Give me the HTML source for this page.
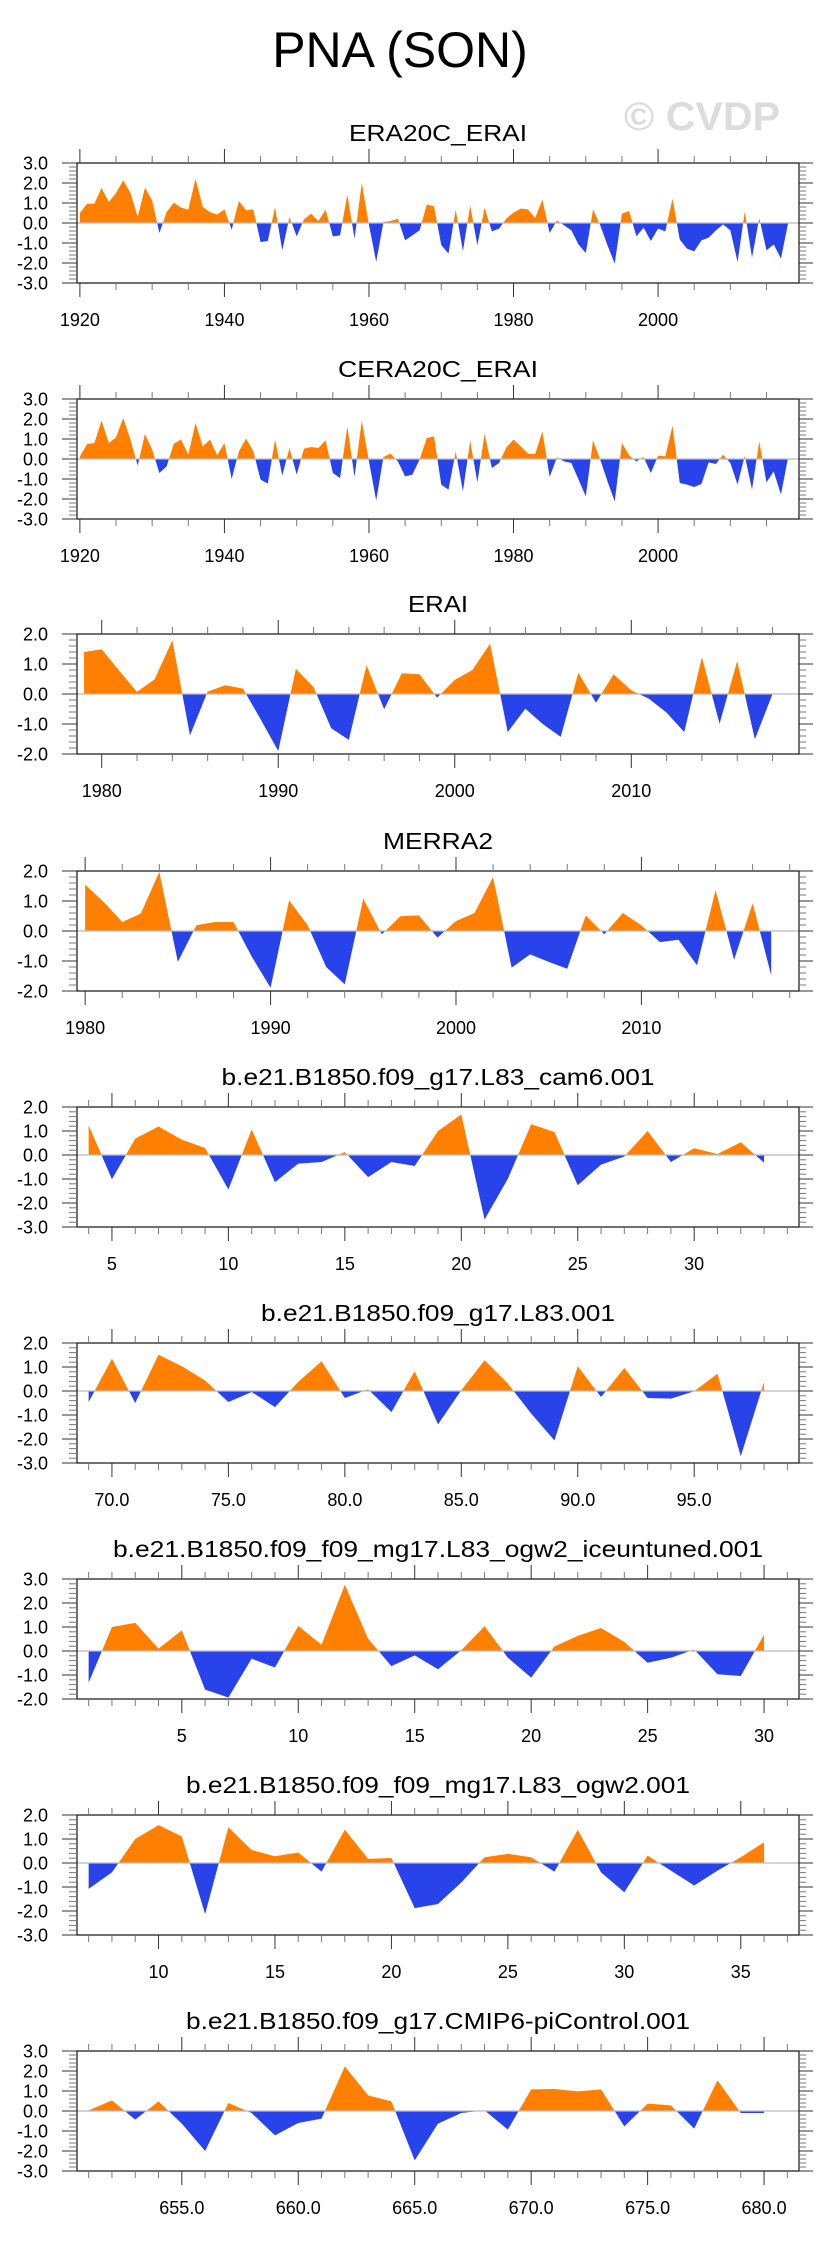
<!DOCTYPE html>
<html><head><meta charset="utf-8"><title>PNA (SON)</title>
<style>
html,body{margin:0;padding:0;background:#fff;}
svg{display:block;font-family:"Liberation Sans",Arial,sans-serif;}
</style></head>
<body>
<svg id="chart" width="829" height="2245" viewBox="0 0 829 2245" xmlns="http://www.w3.org/2000/svg">
<rect x="0" y="0" width="829" height="2245" fill="#fff"/>
<text x="400" y="67" font-size="50" text-anchor="middle" fill="#000">PNA (SON)</text>
<text x="624" y="130" font-size="40" font-weight="bold" fill="#dcdcdc" textLength="156" lengthAdjust="spacingAndGlyphs">© CVDP</text>
<g id="panels"></g>
</svg>
<script>
// ---- data ----
const era20cStart = 1920;
const era20cValues = [0.5,0.97,0.97,1.75,1.05,1.5,2.13,1.5,0.3,1.77,1.13,-0.5,0.55,1.02,0.77,0.67,2.22,0.8,0.55,0.42,0.68,-0.33,1.1,0.63,0.68,-0.95,-0.9,0.8,-1.37,0.3,-0.67,0.18,0.47,0.1,0.67,-0.67,-0.62,1.42,-0.78,2.0,-0.1,-1.95,0.05,0.1,0.22,-0.87,-0.62,-0.37,0.93,0.83,-1.1,-1.53,0.67,-1.4,0.88,-1.12,0.77,-0.42,-0.28,0.22,0.52,0.72,0.68,0.25,1.17,-0.5,0.13,-0.12,-0.37,-1.08,-1.5,0.68,-0.12,-1.12,-2.03,0.47,0.6,-0.67,-0.23,-0.9,-0.28,-0.42,1.22,-0.83,-1.28,-1.42,-0.87,-0.73,-0.37,-0.07,-0.37,-1.95,0.58,-1.73,0.25,-1.37,-1.07,-1.78,0.0];
const cera20cStart = 1920;
const cera20cValues = [0.13,0.75,0.8,1.92,0.8,1.08,2.05,0.97,-0.33,1.25,0.47,-0.7,-0.37,0.77,0.97,0.22,1.8,0.63,0.97,0.18,0.8,-1.0,0.38,1.02,0.38,-1.03,-1.23,0.97,-0.83,0.55,-0.78,0.52,0.6,0.55,0.93,-0.7,-0.95,1.63,-0.9,1.92,-0.12,-2.08,0.1,0.27,-0.12,-0.87,-0.78,-0.03,1.05,1.13,-1.28,-1.53,0.38,-1.62,0.92,-1.17,1.27,-0.45,-0.2,0.58,0.97,0.63,0.27,0.25,1.38,-0.9,0.08,-0.12,-0.2,-1.03,-1.87,0.93,-0.03,-1.12,-2.12,0.8,0.18,-0.12,0.1,-0.7,0.17,0.13,1.67,-1.2,-1.28,-1.4,-1.25,-0.17,-0.25,0.22,-0.2,-1.28,0.17,-1.53,0.88,-1.17,-0.62,-1.78,0.1];
const eraiStart = 1979;
const eraiValues = [1.4,1.49,0.77,0.07,0.49,1.79,-1.38,0.08,0.29,0.18,-0.84,-1.9,0.84,0.23,-1.14,-1.53,0.96,-0.51,0.69,0.66,-0.12,0.47,0.8,1.68,-1.27,-0.49,-1.01,-1.43,0.71,-0.29,0.66,0.12,-0.16,-0.62,-1.27,1.23,-0.99,1.1,-1.51,0.0];
const merra2Start = 1980;
const merra2Values = [1.54,0.97,0.3,0.58,1.97,-1.03,0.19,0.3,0.3,-0.87,-1.89,1.02,0.19,-1.2,-1.78,1.08,-0.11,0.49,0.52,-0.22,0.33,0.6,1.8,-1.22,-0.78,-1.03,-1.26,0.52,-0.11,0.6,0.19,-0.37,-0.29,-1.14,1.36,-0.96,0.93,-1.48];
const cam6Start = 4;
const cam6Values = [1.24,-1.01,0.68,1.19,0.64,0.29,-1.44,1.07,-1.13,-0.36,-0.29,0.12,-0.92,-0.29,-0.46,1.0,1.69,-2.69,-0.99,1.28,0.96,-1.26,-0.4,-0.06,1.0,-0.29,0.28,0.04,0.53,-0.32];
const l83Start = 69;
const l83Values = [-0.46,1.35,-0.5,1.51,1.03,0.44,-0.46,-0.04,-0.67,0.38,1.24,-0.29,0.07,-0.88,0.83,-1.39,0.03,1.28,0.31,-0.94,-2.06,1.03,-0.25,0.96,-0.29,-0.32,-0.01,0.72,-2.72,0.38];
const iceStart = 1;
const iceValues = [-1.32,1.0,1.17,0.1,0.86,-1.61,-1.94,-0.32,-0.69,1.04,0.26,2.76,0.51,-0.63,-0.18,-0.76,0.03,1.03,-0.28,-1.11,0.19,0.63,0.96,0.38,-0.49,-0.28,0.06,-0.97,-1.04,0.68];
const ogw2Start = 7;
const ogw2Values = [-1.08,-0.39,1.0,1.58,1.11,-2.13,1.49,0.54,0.28,0.44,-0.36,1.39,0.17,0.21,-1.88,-1.71,-0.81,0.24,0.38,0.24,-0.36,1.38,-0.39,-1.22,0.31,-0.32,-0.94,-0.32,0.24,0.86];
const piStart = 651;
const piValues = [0.03,0.53,-0.43,0.48,-0.63,-2.0,0.4,-0.1,-1.22,-0.6,-0.38,2.23,0.78,0.48,-2.47,-0.63,-0.1,0.03,-0.93,1.08,1.1,0.98,1.08,-0.77,0.37,0.28,-0.88,1.53,-0.1,-0.1];
const panelTitles = ["ERA20C_ERAI","CERA20C_ERAI","ERAI","MERRA2","b.e21.B1850.f09_g17.L83_cam6.001","b.e21.B1850.f09_g17.L83.001","b.e21.B1850.f09_f09_mg17.L83_ogw2_iceuntuned.001","b.e21.B1850.f09_f09_mg17.L83_ogw2.001","b.e21.B1850.f09_g17.CMIP6-piControl.001"];
const yTickLabels6 = ["3.0","2.0","1.0","0.0","-1.0","-2.0","-3.0"];

// ---- layout (not data) ----
const L = 77, R = 799, H = 120;
const layout = [
 {top:163, ymin:-3, ymax:3, xmin:1919.6, xmax:2019.5, major:20, minor:5, dec:0, start:era20cStart, vals:era20cValues, tw:178, name:"era20c-erai"},
 {top:399, ymin:-3, ymax:3, xmin:1919.6, xmax:2019.5, major:20, minor:5, dec:0, start:cera20cStart, vals:cera20cValues, tw:200, name:"cera20c-erai"},
 {top:634, ymin:-2, ymax:2, xmin:1978.6, xmax:2019.5, major:10, minor:2, dec:0, start:eraiStart, vals:eraiValues, tw:60, name:"erai"},
 {top:871, ymin:-2, ymax:2, xmin:1979.56, xmax:2018.5, major:10, minor:2, dec:0, start:merra2Start, vals:merra2Values, tw:110, name:"merra2"},
 {top:1107, ymin:-3, ymax:2, xmin:3.5, xmax:34.5, major:5, minor:1, dec:0, start:cam6Start, vals:cam6Values, tw:433, name:"cam6"},
 {top:1343, ymin:-3, ymax:2, xmin:68.5, xmax:99.5, major:5, minor:1, dec:1, start:l83Start, vals:l83Values, tw:354, name:"l83"},
 {top:1579, ymin:-2, ymax:3, xmin:0.5, xmax:31.5, major:5, minor:1, dec:0, start:iceStart, vals:iceValues, tw:650, name:"ogw2-iceuntuned"},
 {top:1815, ymin:-3, ymax:2, xmin:6.5, xmax:37.5, major:5, minor:1, dec:0, start:ogw2Start, vals:ogw2Values, tw:504, name:"ogw2"},
 {top:2051, ymin:-3, ymax:3, xmin:650.5, xmax:681.5, major:5, minor:1, dec:1, start:piStart, vals:piValues, tw:504, name:"picontrol"}
];
const NS = "http://www.w3.org/2000/svg";
const root = document.getElementById("panels");
function mk(tag, attrs, parent){
  const e = document.createElementNS(NS, tag);
  for (const k in attrs) e.setAttribute(k, attrs[k]);
  parent.appendChild(e); return e;
}
layout.forEach((p, i) => {
  const g = mk("g", {}, root);
  
  
  const xs = v => L + (v - p.xmin) / (p.xmax - p.xmin) * (R - L);
  const ys = v => p.top + (p.ymax - v) / (p.ymax - p.ymin) * H;
  const bot = p.top + H;
  // title
  const t = mk("text", {x:(L+R)/2, y:p.top-22, "font-size":23, "text-anchor":"middle", textLength:p.tw, lengthAdjust:"spacingAndGlyphs"}, g);
  t.textContent = panelTitles[i];
  
  
  // clips
  const cid = "c" + i;
  const defs = mk("defs", {}, g);
  const cpA = mk("clipPath", {id:cid+"a"}, defs);
  mk("rect", {x:L, y:p.top, width:R-L, height:ys(0)-p.top}, cpA);
  const cpB = mk("clipPath", {id:cid+"b"}, defs);
  mk("rect", {x:L, y:ys(0), width:R-L, height:bot-ys(0)}, cpB);
  // area
  let d = "M" + xs(p.start) + "," + ys(0);
  p.vals.forEach((v, k) => { d += " L" + xs(p.start + k).toFixed(2) + "," + ys(v).toFixed(2); });
  d += " L" + xs(p.start + p.vals.length - 1) + "," + ys(0) + " Z";
  const a1 = mk("path", {d:d, fill:"#ff8000", "clip-path":"url(#"+cid+"a)"}, g);
  
  
  const a2 = mk("path", {d:d, fill:"#2843ea", "clip-path":"url(#"+cid+"b)"}, g);
  
  
  // zero line
  const z = mk("line", {x1:L, x2:R, y1:ys(0), y2:ys(0), stroke:"#bbb", "stroke-width":1.2}, g);
  
  
  // frame
  const f = mk("rect", {x:L, y:p.top, width:R-L, height:H, fill:"none", stroke:"#222", "stroke-width":1.3}, g);
  
  
  // y ticks
  for (let v = p.ymin; v <= p.ymax + 1e-6; v += 0.2) {
    const r = Math.round(v * 10) / 10;
    const maj = Math.abs(r - Math.round(r)) < 1e-6;
    const yy = ys(r);
    mk("line", {x1:L - (maj?15:8), x2:L, y1:yy, y2:yy, stroke: maj?"#333":"#777", "stroke-width":1}, g);
    mk("line", {x1:R, x2:R + (maj?14:7), y1:yy, y2:yy, stroke: maj?"#333":"#777", "stroke-width":1}, g);
    if (maj) {
      const lb = mk("text", {x:48, y:yy+6.5, "font-size":18, "text-anchor":"end"}, g);
      lb.textContent = yTickLabels6[3 - Math.round(r)];
      
      
    }
  }
  // x ticks
  const first = Math.ceil(p.xmin / p.minor) * p.minor;
  for (let v = first; v <= p.xmax; v += p.minor) {
    const maj = Math.abs(v / p.major - Math.round(v / p.major)) < 1e-6;
    const xx = xs(v);
    mk("line", {x1:xx, x2:xx, y1:p.top - (maj?14:7), y2:p.top, stroke: maj?"#333":"#777", "stroke-width":1}, g);
    mk("line", {x1:xx, x2:xx, y1:bot, y2:bot + (maj?14:7), stroke: maj?"#333":"#777", "stroke-width":1}, g);
    if (maj) {
      const lb = mk("text", {x:xx, y:bot+43, "font-size":18, "text-anchor":"middle"}, g);
      lb.textContent = v.toFixed(p.dec);
      
      
    }
  }
});
</script>
</body></html>
